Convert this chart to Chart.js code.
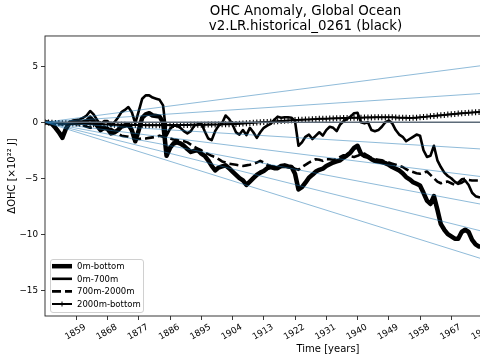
<!DOCTYPE html>
<html><head><meta charset="utf-8">
<script src="https://cdn.jsdelivr.net/npm/chart.js@4"></script>
<style>
html,body{margin:0;padding:0;overflow:hidden;background:#fff;width:480px;height:360px}
#wrap{position:absolute;left:0;top:0;width:656px;height:360px}
</style>
</head><body>
<div id="wrap"><canvas id="c" width="656" height="360"></canvas></div>
<script>
// ---- data, annual values from 1850 ----
const startYear = 1850;
const ohc0mBottom = [
 0.0,-0.05,-0.15,-0.5,-0.9,-1.4,-0.6,-0.1,0.0,0.0,
 -0.05,0.0,0.1,0.4,0.1,-0.3,-0.7,-0.5,-0.6,-1.0,
 -0.9,-0.7,-0.4,-0.3,-0.2,-0.7,-1.7,-0.7,0.4,0.7,
 0.8,0.6,0.55,0.5,0.0,-3.0,-2.3,-1.9,-1.8,-1.9,
 -2.1,-2.4,-2.65,-2.55,-2.5,-2.8,-3.0,-3.4,-3.9,-4.3,
 -4.05,-3.95,-3.85,-4.1,-4.4,-4.7,-5.0,-5.2,-5.6,-5.3,
 -5.0,-4.7,-4.5,-4.35,-4.1,-4.0,-4.1,-4.1,-3.9,-3.85,
 -3.95,-4.0,-4.6,-6.0,-5.8,-5.4,-4.95,-4.7,-4.4,-4.25,
 -4.15,-3.9,-3.75,-3.6,-3.5,-3.4,-3.15,-2.95,-2.7,-2.3,
 -2.1,-2.8,-3.0,-3.1,-3.3,-3.45,-3.5,-3.55,-3.65,-3.8,
 -4.0,-4.15,-4.3,-4.55,-4.9,-5.1,-5.35,-5.5,-5.65,-6.3,
 -7.0,-7.3,-6.6,-7.8,-9.1,-9.6,-10.0,-10.2,-10.4,-10.4,
 -9.8,-9.6,-9.8,-10.5,-10.9,-11.1,-11.1,-11.2
];
const ohc0m700m = [
 0.0,-0.05,-0.1,-0.4,-0.8,-1.2,-0.5,0.0,0.15,0.2,
 0.25,0.4,0.6,1.0,0.7,0.2,-0.2,0.1,0.1,-0.3,
 0.0,0.4,0.9,1.1,1.35,0.9,-0.1,1.0,2.1,2.4,
 2.4,2.2,2.1,2.0,1.5,-1.2,-0.6,-0.3,-0.3,-0.5,
 -0.8,-1.0,-0.8,-0.3,-0.2,-0.1,-0.8,-1.45,-1.6,-0.8,
 -0.3,-0.1,0.6,0.3,-0.2,-0.9,-1.1,-0.7,-1.15,-0.5,
 -0.9,-1.4,-0.9,-0.5,-0.3,-0.15,0.2,0.5,0.4,0.45,
 0.45,0.4,0.1,-2.1,-1.8,-1.3,-1.1,-1.5,-1.2,-0.9,
 -1.2,-0.7,-0.4,-0.5,-0.8,-0.2,0.1,0.3,0.5,0.8,
 0.85,0.0,-0.1,0.0,-0.7,-0.8,-0.7,-0.4,0.0,0.15,
 -0.1,-0.7,-1.1,-1.3,-1.7,-1.5,-1.3,-1.1,-1.2,-2.5,
 -3.1,-3.0,-2.1,-3.4,-4.0,-4.5,-4.8,-5.0,-5.3,-5.5,
 -5.4,-5.2,-5.6,-6.3,-6.6,-6.7,-6.7,-6.8
];
const ohc700m2000m = [
 0.0,0.0,-0.05,-0.1,-0.15,-0.2,-0.1,-0.05,-0.1,-0.15,
 -0.2,-0.3,-0.4,-0.5,-0.45,-0.4,-0.4,-0.5,-0.6,-0.6,
 -0.8,-1.0,-1.2,-1.25,-1.3,-1.4,-1.5,-1.5,-1.45,-1.45,
 -1.4,-1.35,-1.3,-1.2,-1.3,-1.4,-1.45,-1.55,-1.6,-1.65,
 -1.7,-1.8,-2.0,-2.2,-2.35,-2.5,-2.7,-2.85,-3.0,-3.1,
 -3.3,-3.5,-3.6,-3.7,-3.75,-3.8,-3.85,-3.9,-3.85,-3.8,
 -3.7,-3.6,-3.45,-3.6,-3.8,-3.9,-3.95,-4.0,-4.0,-4.0,
 -4.0,-4.0,-4.15,-4.25,-4.0,-3.8,-3.6,-3.45,-3.3,-3.35,
 -3.45,-3.3,-3.3,-3.35,-3.3,-3.1,-2.95,-3.0,-3.05,-3.1,
 -3.0,-2.85,-2.8,-3.0,-3.2,-3.3,-3.35,-3.4,-3.5,-3.6,
 -3.7,-3.8,-3.9,-4.0,-4.2,-4.35,-4.45,-4.55,-4.6,-4.5,
 -4.4,-4.7,-5.0,-5.3,-5.45,-5.35,-5.3,-5.45,-5.6,-5.4,
 -5.1,-5.05,-5.15,-5.2,-5.2,-5.2,-5.25,-5.25
];
const ohc2000mBottom = [
 0.0,-0.02,-0.05,-0.06,-0.08,-0.1,-0.1,-0.1,-0.11,-0.12,
 -0.13,-0.14,-0.15,-0.16,-0.17,-0.18,-0.19,-0.2,-0.2,-0.21,
 -0.22,-0.22,-0.23,-0.23,-0.24,-0.24,-0.25,-0.25,-0.25,-0.26,
 -0.26,-0.26,-0.26,-0.26,-0.26,-0.26,-0.25,-0.25,-0.25,-0.24,
 -0.24,-0.24,-0.23,-0.23,-0.23,-0.22,-0.22,-0.21,-0.21,-0.2,
 -0.2,-0.19,-0.18,-0.17,-0.16,-0.15,-0.13,-0.11,-0.09,-0.07,
 -0.05,-0.03,-0.01,0.01,0.03,0.05,0.07,0.09,0.11,0.13,
 0.15,0.17,0.19,0.21,0.22,0.24,0.25,0.27,0.28,0.3,
 0.31,0.32,0.33,0.34,0.35,0.36,0.37,0.38,0.39,0.4,
 0.41,0.41,0.42,0.43,0.43,0.44,0.44,0.45,0.45,0.45,
 0.44,0.43,0.41,0.4,0.39,0.38,0.39,0.41,0.44,0.47,
 0.5,0.53,0.56,0.59,0.62,0.65,0.68,0.71,0.74,0.77,
 0.8,0.82,0.85,0.87,0.89,0.91,0.93,0.95
];
const years = ohc0mBottom.map((_, i) => startYear + i);
const seriesNames = ['0m-bottom', '0m-700m', '700m-2000m', '2000m-bottom'];
const xTickYears = [1859,1868,1877,1886,1895,1904,1913,1922,1931,1940,1949,1958,1967,1976,1985,1994,2003,2012];
const yTickValues = [5, 0, -5, -10, -15];
// reference trend lines: all start at (1850, 0); value reached at the right end of the axis
const refLineEndValues = [6.55, 3.33, -3.1, -6.3, -9.5, -12.6, -15.8];
const xMin = 1850, xMax = 2013, yMin = -17.3, yMax = 7.7;

// ---- chart ----
const FONT = "'DejaVu Sans', sans-serif";
const toXY = arr => arr.map((v, i) => ({x: years[i], y: v}));

const datasets = [];
refLineEndValues.forEach(v => datasets.push({
  data: [{x: xMin, y: 0}, {x: xMax, y: v}],
  borderColor: 'rgba(31,119,180,0.5)', borderWidth: 1, pointRadius: 0, order: 0, isRef: true
}));
datasets.push({
  data: [{x: xMin, y: 0}, {x: xMax, y: 0}],
  borderColor: '#5d6b79', borderWidth: 1.6, pointRadius: 0, order: 1, isRef: true
});
datasets.push({label: seriesNames[0], data: toXY(ohc0mBottom), borderColor: '#000', borderWidth: 4.5,
  pointRadius: 0, order: 5, borderJoinStyle: 'round', borderCapStyle: 'butt'});
datasets.push({label: seriesNames[1], data: toXY(ohc0m700m), borderColor: '#000', borderWidth: 2.6,
  pointRadius: 0, order: 4, borderJoinStyle: 'round'});
datasets.push({label: seriesNames[2], data: toXY(ohc700m2000m), borderColor: '#000', borderWidth: 2.6,
  borderDash: [9, 4], pointRadius: 0, order: 3, borderJoinStyle: 'round'});
datasets.push({label: seriesNames[3], data: toXY(ohc2000mBottom), borderColor: '#000', borderWidth: 2,
  pointStyle: 'cross', pointRadius: 3, pointBorderWidth: 1.1, pointBorderColor: '#000', order: 2,
  borderJoinStyle: 'round'});

const framePlugin = {
  id: 'frame',
  afterDatasetsDraw(chart) {
    const {ctx, chartArea: a} = chart;
    ctx.save();
    ctx.strokeStyle = '#222';
    ctx.lineWidth = 0.9;
    ctx.strokeRect(a.left, a.top, a.right - a.left, a.bottom - a.top);
    ctx.restore();
  }
};

const legendPlugin = {
  id: 'boxLegend',
  afterDraw(chart) {
    const {ctx, chartArea: a} = chart;
    const bx = a.left + 5, by = a.bottom - 57, bw = 93, bh = 53;
    ctx.save();
    ctx.fillStyle = 'rgba(255,255,255,0.85)';
    ctx.strokeStyle = '#d0d0d0';
    ctx.lineWidth = 1;
    ctx.beginPath();
    ctx.roundRect(bx + 0.5, by + 0.5, bw, bh, 2.5);
    ctx.fill(); ctx.stroke();
    const items = chart.data.datasets.filter(d => !d.isRef);
    items.forEach((d, i) => {
      const y = by + 7.2 + 12.6 * i;
      ctx.strokeStyle = d.borderColor;
      ctx.lineWidth = d.borderWidth;
      ctx.setLineDash(d.borderDash || []);
      ctx.lineCap = 'butt';
      ctx.beginPath();
      ctx.moveTo(bx + 2, y); ctx.lineTo(bx + 22, y);
      ctx.stroke();
      ctx.setLineDash([]);
      if (d.pointStyle === 'cross') {
        ctx.lineWidth = 1;
        ctx.beginPath();
        ctx.moveTo(bx + 12, y - 2.5); ctx.lineTo(bx + 12, y + 2.5);
        ctx.moveTo(bx + 9.5, y); ctx.lineTo(bx + 14.5, y);
        ctx.stroke();
      }
      ctx.fillStyle = '#000';
      ctx.font = '8.5px ' + FONT;
      ctx.textBaseline = 'middle';
      ctx.textAlign = 'left';
      ctx.fillText(d.label, bx + 27, y + 0.5);
    });
    ctx.restore();
  }
};

new Chart(document.getElementById('c'), {
  type: 'line',
  data: {datasets},
  plugins: [framePlugin, legendPlugin],
  options: {
    responsive: false,
    animation: false,
    events: [],
    layout: {padding: {left: 0, right: 45, top: 0, bottom: 0}},
    plugins: {
      legend: {display: false},
      tooltip: {enabled: false},
      title: {
        display: true,
        text: ['OHC Anomaly, Global Ocean', 'v2.LR.historical_0261 (black)'],
        color: '#000',
        font: {family: FONT, size: 13.4, weight: 'normal', lineHeight: 1.1},
        padding: {top: 4, bottom: 2.5}
      }
    },
    scales: {
      x: {
        type: 'linear', min: xMin, max: xMax,
        afterBuildTicks: s => { s.ticks = xTickYears.map(v => ({value: v})); },
        afterFit: s => { s.height = 44; },
        border: {display: false},
        grid: {display: true, drawOnChartArea: false, drawTicks: true, tickLength: 4, color: '#222', lineWidth: 0.9},
        ticks: {
          autoSkip: false, minRotation: 30, maxRotation: 30, labelOffset: 9, padding: 2,
          color: '#000', font: {family: FONT, size: 8.8},
          callback: v => String(v)
        },
        title: {display: true, text: 'Time [years]', color: '#000',
          font: {family: FONT, size: 10, lineHeight: 1.2}, padding: {top: 0, bottom: 5}}
      },
      y: {
        type: 'linear', min: yMin, max: yMax,
        afterBuildTicks: s => { s.ticks = yTickValues.map(v => ({value: v})); },
        afterFit: s => { s.width = 45; },
        border: {display: false},
        grid: {display: true, drawOnChartArea: false, drawTicks: true, tickLength: 4, color: '#222', lineWidth: 0.9},
        ticks: {
          color: '#000', font: {family: FONT, size: 8.8}, padding: 3,
          callback: v => (v < 0 ? '\u2212' + Math.abs(v) : String(v))
        },
        title: {display: true, text: 'ΔOHC [×10²² J]', color: '#000',
          font: {family: FONT, size: 10, lineHeight: 1.2}, padding: {top: 6, bottom: 0}}
      }
    }
  }
});
</script>
</body></html>
